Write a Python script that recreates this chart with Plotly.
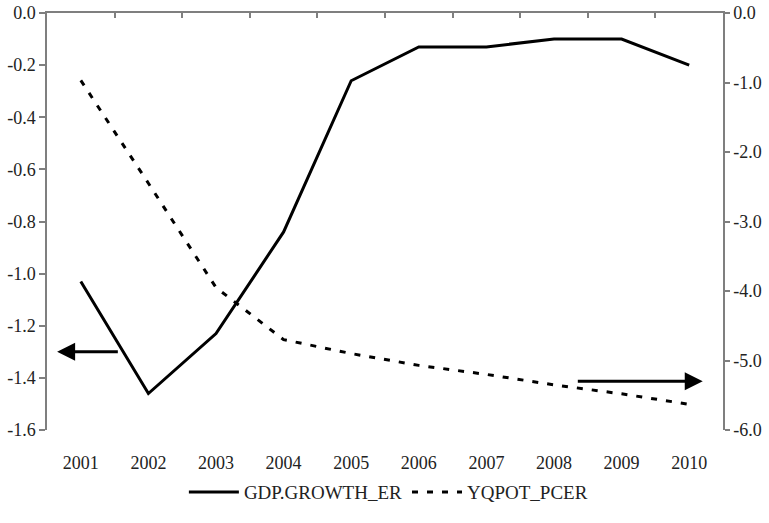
import plotly.graph_objects as go

years = ["2001", "2002", "2003", "2004", "2005", "2006", "2007", "2008", "2009", "2010"]
gdp_growth_er = [-1.03, -1.46, -1.23, -0.84, -0.26, -0.13, -0.13, -0.10, -0.10, -0.20]
yqpot_pcer = [-0.97, -2.45, -3.95, -4.70, -4.90, -5.07, -5.20, -5.35, -5.48, -5.63]

left_ticks = [0.0, -0.2, -0.4, -0.6, -0.8, -1.0, -1.2, -1.4, -1.6]
left_labels = ["0.0", "-0.2", "-0.4", "-0.6", "-0.8", "-1.0", "-1.2", "-1.4", "-1.6"]
right_ticks = [0, -1, -2, -3, -4, -5, -6]
right_labels = ["0.0", "-1.0", "-2.0", "-3.0", "-4.0", "-5.0", "-6.0"]

idx = list(range(len(years)))
axis_grey = "#7f7f7f"
font_family = "Liberation Serif, Times New Roman, serif"

fig = go.Figure()
fig.add_trace(go.Scatter(
    x=idx, y=gdp_growth_er, name="GDP.GROWTH_ER", mode="lines",
    line=dict(color="black", width=3), yaxis="y",
))
fig.add_trace(go.Scatter(
    x=idx, y=yqpot_pcer, name="YQPOT_PCER", mode="lines",
    line=dict(color="black", width=3, dash="6px,9px"), yaxis="y2",
))
# empty trace so the top category axis (frame line + boundary ticks) is drawn
fig.add_trace(go.Scatter(x=[], y=[], xaxis="x2", yaxis="y", showlegend=False, hoverinfo="skip"))

fig.update_layout(
    width=769, height=523,
    margin=dict(l=47, r=46, t=13, b=93),
    paper_bgcolor="white", plot_bgcolor="white",
    font=dict(family=font_family, size=18, color="#222222"),
    showlegend=True,
    legend=dict(orientation="h", x=0.505, xanchor="center", y=-0.149, yanchor="middle",
                font=dict(size=19, color="#222222"), itemwidth=50, tracegroupgap=0),
    xaxis=dict(
        range=[-0.5, 9.5], tickmode="array", tickvals=idx, ticktext=years,
        showline=False, showgrid=False, zeroline=False, ticks="",
        ticklabelstandoff=20, automargin=False,
    ),
    xaxis2=dict(
        overlaying="x", side="top", range=[-0.5, 9.5],
        tickmode="array", tickvals=[i + 0.5 for i in idx[:-1]],
        ticks="inside", ticklen=5, tickwidth=1.5, tickcolor=axis_grey,
        showticklabels=False, showline=True, linecolor=axis_grey, linewidth=1.5,
        showgrid=False, zeroline=False, automargin=False,
    ),
    yaxis=dict(
        range=[-1.6, 0], tickmode="array", tickvals=left_ticks, ticktext=left_labels,
        showline=True, linecolor=axis_grey, linewidth=1.5,
        ticks="outside", ticklen=6, tickwidth=1.5, tickcolor=axis_grey,
        showgrid=False, zeroline=False, automargin=False,
    ),
    yaxis2=dict(
        overlaying="y", side="right", range=[-6, 0],
        tickmode="array", tickvals=right_ticks, ticktext=right_labels,
        showline=True, linecolor=axis_grey, linewidth=1.5,
        ticks="outside", ticklen=5, tickwidth=1.5, tickcolor=axis_grey,
        showgrid=False, zeroline=False, automargin=False,
    ),
)

# arrows pointing to the axis each series belongs to
fig.add_annotation(x=-0.35, y=-1.30, ax=0.57, ay=-1.30, xref="x", yref="y",
                   axref="x", ayref="y", text="", showarrow=True,
                   arrowhead=2, arrowsize=1.2, arrowwidth=3, arrowcolor="black")
fig.add_annotation(x=9.2, y=-5.30, ax=7.33, ay=-5.30, xref="x", yref="y2",
                   axref="x", ayref="y2", text="", showarrow=True,
                   arrowhead=2, arrowsize=1.2, arrowwidth=3, arrowcolor="black")

fig.write_html("out.html")
